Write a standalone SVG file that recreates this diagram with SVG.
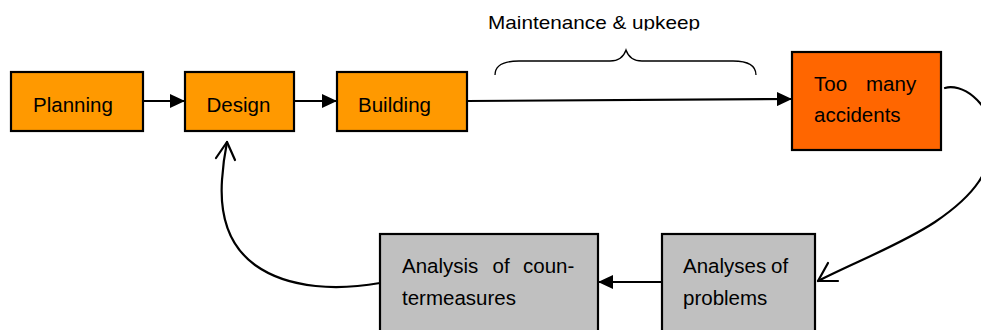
<svg xmlns="http://www.w3.org/2000/svg" width="981" height="330" viewBox="0 0 981 330">
<style>
.box{stroke:#000;stroke-width:2.2}
.orange{fill:#FF9900}
.red{fill:#FF6600}
.gray{fill:#C0C0C0}
.t{font-family:"Liberation Sans",Arial,sans-serif;font-size:20.5px;fill:#000}
.line{fill:none;stroke:#000;stroke-width:2.2}
.curve{fill:none;stroke:#000;stroke-width:2.2;stroke-linecap:round;stroke-linejoin:round}
</style>
<defs>
<marker id="tri" markerUnits="userSpaceOnUse" markerWidth="15" markerHeight="14" refX="15" refY="7" orient="auto">
<path d="M0,0 L15,7 L0,14 z" fill="#000"/>
</marker>
<clipPath id="topclip"><rect x="0" y="0" width="981" height="30.5"/></clipPath>
</defs>
<rect width="981" height="330" fill="#fff"/>

<g id="label-maintenance">
<text class="t" x="488" y="29" font-size="18.5" textLength="212" lengthAdjust="spacingAndGlyphs" clip-path="url(#topclip)" style="font-size:18.5px">Maintenance &amp; upkeep</text>
<path class="line" stroke-width="1.3" style="stroke-width:1.3" d="M495,75 C495,66 503,61 519,61 L610,61 C619,61 624,56 626,50 C628,56 633,61 642,61 L733,61 C749,61 756,66 756,75"/>
</g>

<g id="node-planning">
<rect class="box orange" x="11" y="72" width="132" height="59"/>
<text class="t" x="33" y="112">Planning</text>
</g>
<g id="node-design">
<rect class="box orange" x="185" y="72" width="109" height="59"/>
<text class="t" x="206.5" y="111.5">Design</text>
</g>
<g id="node-building">
<rect class="box orange" x="337" y="72" width="130" height="59"/>
<text class="t" x="358" y="111.5">Building</text>
</g>
<g id="node-accidents">
<rect class="box red" x="792" y="52" width="149" height="98"/>
<text class="t" x="814" y="91">Too<tspan x="866">many</tspan></text>
<text class="t" x="814" y="122">accidents</text>
</g>
<g id="node-countermeasures">
<rect class="box gray" x="380" y="234" width="218" height="110"/>
<text class="t" x="402" y="273">Analysis<tspan x="492.5">of</tspan><tspan x="523">coun-</tspan></text>
<text class="t" x="402" y="305">termeasures</text>
</g>
<g id="node-problems">
<rect class="box gray" x="662" y="234" width="153" height="110"/>
<text class="t" x="683" y="273">Analyses<tspan x="771">of</tspan></text>
<text class="t" x="683" y="305">problems</text>
</g>

<g id="connectors">
<line class="line" x1="143" y1="101" x2="185" y2="101" marker-end="url(#tri)"/>
<line class="line" x1="294" y1="101" x2="337" y2="101" marker-end="url(#tri)"/>
<line class="line" x1="467" y1="101" x2="792" y2="99" marker-end="url(#tri)"/>
<line class="line" x1="662" y1="282" x2="598" y2="282" marker-end="url(#tri)"/>
<path class="curve" d="M945,88 C960,83 990,100 992,135 C993,170 975,195 935,222 C900,245 855,262 818,281"/>
<path class="curve" d="M828,263 L818,281 L838,281"/>
<path class="curve" d="M380,283 C340,290 290,290 255,265 C225,243 220,210 222,180 C223,165 225,152 227,142"/>
<path class="curve" d="M216,158 L227,142 L235,160"/>
</g>
</svg>
